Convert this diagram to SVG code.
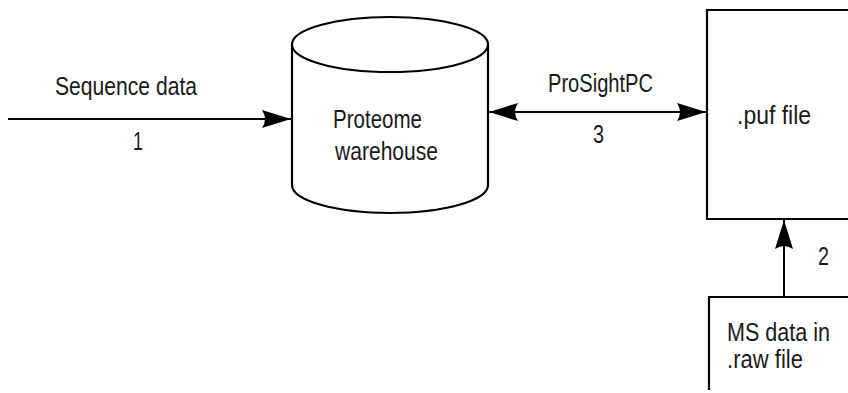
<svg xmlns="http://www.w3.org/2000/svg" width="848" height="393" viewBox="0 0 848 393">
<style>
text{font-family:"Liberation Sans",Arial,sans-serif;font-size:25px;fill:#1a1a1a}
.ln{stroke:#000;stroke-width:2;fill:none}
.sh{stroke:#000;stroke-width:2.2;fill:#fff}
</style>
<defs>
<marker id="ah" markerUnits="userSpaceOnUse" markerWidth="32" markerHeight="22" viewBox="-30 -11 32 22" refX="0" refY="0" orient="auto-start-reverse">
<path d="M0,0 L-29,-9 Q-23,0 -29,9 Z" fill="#000"/>
</marker>
</defs>
<rect width="848" height="393" fill="#fff"/>
<g id="warehouse">
<path class="sh" d="M292,44 L292,185 A98,28 0 0 0 488,185 L488,44"/>
<ellipse class="sh" cx="390" cy="44.5" rx="98" ry="27.5"/>
<text x="333" y="128" textLength="89" lengthAdjust="spacingAndGlyphs">Proteome</text>
<text x="335" y="160" textLength="103" lengthAdjust="spacingAndGlyphs">warehouse</text>
</g>
<g id="puf">
<path class="sh" d="M860,10 L707,10 L707,219 L860,219"/>
<text x="737" y="124" textLength="74" lengthAdjust="spacingAndGlyphs">.puf file</text>
</g>
<g id="raw">
<path class="sh" d="M860,297 L709,297 L709,390"/>
<text x="727" y="341" textLength="103" lengthAdjust="spacingAndGlyphs">MS data in</text>
<text x="727" y="368" textLength="76" lengthAdjust="spacingAndGlyphs">.raw file</text>
</g>
<g id="connectors">
<line class="ln" x1="8" y1="119" x2="291" y2="119" marker-end="url(#ah)"/>
<line class="ln" x1="489" y1="112" x2="706" y2="112" marker-start="url(#ah)" marker-end="url(#ah)"/>
<line class="ln" x1="784" y1="297" x2="784" y2="220" marker-end="url(#ah)"/>
</g>
<g id="labels">
<text x="55" y="95" textLength="142" lengthAdjust="spacingAndGlyphs">Sequence data</text>
<text x="133" y="150" textLength="10" lengthAdjust="spacingAndGlyphs">1</text>
<text x="593" y="143" textLength="11" lengthAdjust="spacingAndGlyphs">3</text>
<text x="548" y="92" textLength="105" lengthAdjust="spacingAndGlyphs">ProSightPC</text>
<text x="818" y="265" textLength="11" lengthAdjust="spacingAndGlyphs">2</text>
</g>
</svg>
